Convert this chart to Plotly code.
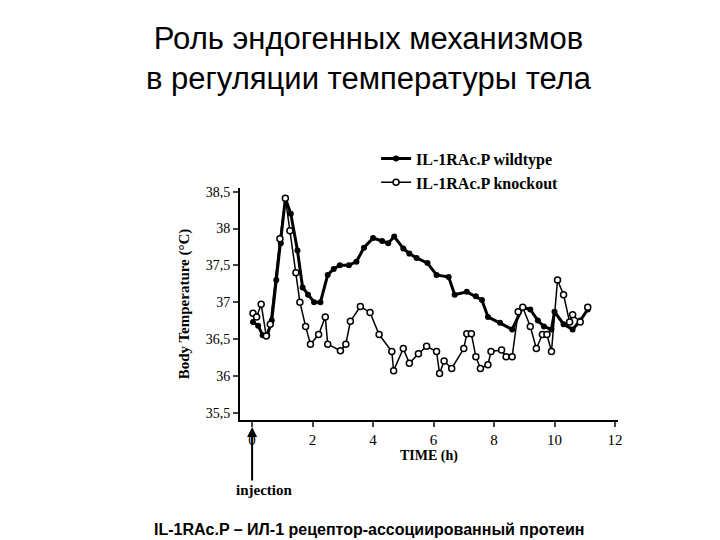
import plotly.graph_objects as go

wt_t = [0.03, 0.2, 0.35, 0.5, 0.65, 0.8, 0.95, 1.1, 1.28, 1.5, 1.67, 1.85, 2.05, 2.26, 2.5, 2.7, 2.9, 3.2, 3.45, 3.7, 4.0, 4.3, 4.5, 4.7, 5.0, 5.2, 5.44, 5.8, 6.1, 6.5, 6.7, 7.1, 7.4, 7.6, 7.8, 8.2, 8.6, 8.95, 9.2, 9.45, 9.65, 9.9, 10.0, 10.3, 10.6, 10.85, 11.1]
wt_y = [36.73, 36.68, 36.55, 36.55, 36.75, 37.3, 37.8, 38.41, 38.2, 37.7, 37.2, 37.1, 37.0, 37.0, 37.37, 37.45, 37.5, 37.5, 37.55, 37.74, 37.87, 37.83, 37.8, 37.89, 37.73, 37.66, 37.6, 37.53, 37.37, 37.34, 37.1, 37.14, 37.08, 37.03, 36.8, 36.72, 36.63, 36.93, 36.9, 36.75, 36.67, 36.63, 36.87, 36.7, 36.63, 36.75, 36.9]
ko_t = [0.03, 0.15, 0.3, 0.47, 0.6, 0.92, 1.1, 1.25, 1.45, 1.58, 1.77, 1.93, 2.2, 2.42, 2.5, 2.92, 3.1, 3.25, 3.58, 3.9, 4.2, 4.62, 4.68, 5.0, 5.2, 5.5, 5.77, 6.1, 6.2, 6.35, 6.6, 7.0, 7.1, 7.25, 7.4, 7.55, 7.8, 7.9, 8.25, 8.4, 8.6, 8.8, 8.95, 9.2, 9.4, 9.6, 9.75, 9.9, 10.1, 10.3, 10.5, 10.6, 10.85, 11.1]
ko_y = [36.85, 36.8, 36.97, 36.54, 36.7, 37.86, 38.41, 37.97, 37.4, 37.0, 36.67, 36.43, 36.56, 36.8, 36.43, 36.34, 36.43, 36.74, 36.94, 36.86, 36.56, 36.33, 36.07, 36.37, 36.17, 36.3, 36.4, 36.33, 36.03, 36.2, 36.1, 36.37, 36.57, 36.57, 36.26, 36.1, 36.15, 36.33, 36.35, 36.26, 36.26, 36.87, 36.93, 36.67, 36.37, 36.56, 36.56, 36.33, 37.3, 37.1, 36.73, 36.83, 36.73, 36.93]
x_ticks = [0, 2, 4, 6, 8, 10, 12]
y_ticks = [35.5, 36, 36.5, 37, 37.5, 38, 38.5]
y_labels = ["35,5", "36", "36,5", "37", "37,5", "38", "38,5"]

serif = dict(family="Liberation Serif", color="black")
fig = go.Figure()
fig.add_trace(go.Scatter(x=wt_t, y=wt_y, name="<b>IL-1RAc.P wildtype</b>", mode="lines+markers",
                         line=dict(color="black", width=3), marker=dict(color="black", size=6)))
fig.add_trace(go.Scatter(x=ko_t, y=ko_y, name="<b>IL-1RAc.P knockout</b>", mode="lines+markers",
                         line=dict(color="black", width=1.5),
                         marker=dict(color="white", size=6, line=dict(color="black", width=1.5))))

fig.update_layout(
    width=720, height=540, plot_bgcolor="white", paper_bgcolor="white",
    margin=dict(l=232, r=110, t=180, b=128),
    font=dict(**serif, size=14),
    legend=dict(x=0.36, y=1.2, xanchor="left", yanchor="top", bgcolor="rgba(0,0,0,0)",
                font=dict(**serif, size=16), tracegroupgap=0),
    xaxis=dict(range=[-0.4, 12.1], tickvals=x_ticks, showline=True, linecolor="black", linewidth=2,
               ticks="outside", tickwidth=2, showgrid=False, zeroline=False,
               tickfont=dict(**serif, size=15),
               title=dict(text="<b>TIME (h)</b>", font=dict(**serif, size=14), standoff=2)),
    yaxis=dict(range=[35.4, 38.55], tickvals=y_ticks, ticktext=y_labels, showline=True, linecolor="black",
               linewidth=2, ticks="outside", tickwidth=2, showgrid=False, zeroline=False,
               tickfont=dict(**serif, size=14),
               title=dict(text="<b>Body Temperature (°C)</b>", font=dict(**serif, size=15), standoff=12)),
)
fig.add_annotation(text="Роль эндогенных механизмов<br>в регуляции температуры тела", xref="paper", yref="paper",
                   x=0.34, y=1.73, xanchor="center", yanchor="top", showarrow=False,
                   font=dict(family="Liberation Sans", size=31, color="black"))
fig.add_annotation(x=0, y=-0.03, xref="x", yref="paper", ax=0, ay=55, text="",
                   showarrow=True, arrowhead=2, arrowsize=1, arrowwidth=2, arrowcolor="black")
fig.add_annotation(x=0.4, y=-0.3, xref="x", yref="paper", yanchor="middle", text="<b>injection</b>",
                   showarrow=False, font=dict(**serif, size=15))
fig.add_annotation(text="<b>IL-1RAc.P – ИЛ-1 рецептор-ассоциированный протеин</b>", xref="paper", yref="paper",
                   x=0.34, y=-0.47, xanchor="center", yanchor="middle", showarrow=False,
                   font=dict(family="Liberation Sans", size=16, color="black"))
fig.write_html("out.html")
